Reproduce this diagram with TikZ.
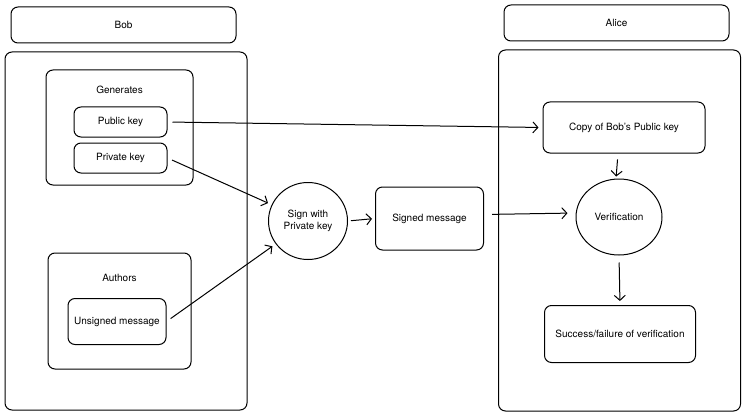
\documentclass[tikz,border=0pt]{standalone}
\usepackage{fontspec}
\setmainfont{TeX Gyre Heros}
\usetikzlibrary{arrows.meta,shapes.geometric}
\begin{document}
\begin{tikzpicture}[x=1pt,y=-1pt,line width=1pt,
    font=\fontsize{10}{12}\selectfont,
    box/.style={draw,rounded corners=7pt,inner sep=0pt},
    round/.style={draw,ellipse,inner sep=0pt,align=center},
    link/.style={-{Straight Barb[length=5pt,width=11pt]},shorten <=5pt,shorten >=4pt}]
  \useasboundingbox (0,0) rectangle (746,417);
  \path (123.5,25)  node[box,minimum width=225pt,minimum height=36pt] (bobhead) {Bob}
        (126,231)   node[box,minimum width=242pt,minimum height=358pt] (bob) {}
        (119.5,127.5) node[box,minimum width=147pt,minimum height=115pt] (gen) {}
        (119.5,90)  node (gentext) {Generates}
        (120.5,122) node[box,minimum width=93pt,minimum height=30pt] (pub) {Public key}
        (120.5,158) node[box,minimum width=93pt,minimum height=30pt] (priv) {Private key}
        (119.5,311) node[box,minimum width=143pt,minimum height=116pt] (auth) {}
        (119.5,278) node (authtext) {Authors}
        (117,321.5) node[box,minimum width=98pt,minimum height=46pt] (unsig) {Unsigned message}
        (308,221)   node[round,minimum width=79pt,minimum height=77pt] (sign) {Sign with\\Private key}
        (429.5,218.5) node[box,minimum width=108pt,minimum height=63pt] (signed) {Signed message}
        (616.5,23)  node[box,minimum width=225pt,minimum height=36pt] (alicehead) {Alice}
        (619.5,230.5) node[box,minimum width=242pt,minimum height=361pt] (alice) {}
        (624,127.5) node[box,minimum width=162pt,minimum height=51pt] (copy) {Copy of Bob's Public key}
        (619,217)   node[round,minimum width=86pt,minimum height=76pt] (verif) {Verification}
        (620,334)   node[box,minimum width=151pt,minimum height=57pt] (succ) {Success/failure of verification};
  \draw[link] (pub.east) -- (copy.west);
  \draw[link] (priv.east) -- (sign);
  \draw[link] (unsig.east) -- (sign);
  \draw[link,shorten <=3pt,shorten >=3pt] (sign.east) -- (signed.west);
  \draw[link,shorten <=8pt,shorten >=8pt] ([yshift=4pt]signed.east) -- ([yshift=4pt]verif.west);
  \draw[link,shorten <=6pt,shorten >=2pt] ([xshift=-6pt]copy.south) -- ([xshift=-3pt]verif.north);
  \draw[link,shorten <=7pt,shorten >=4pt] (verif.south) -- (succ.north);
\end{tikzpicture}
\end{document}
